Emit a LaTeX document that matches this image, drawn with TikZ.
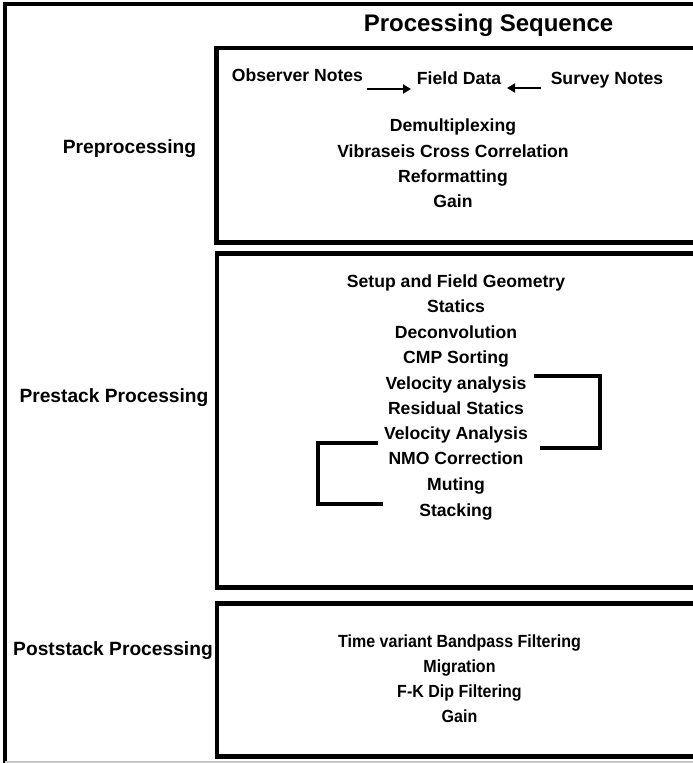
\documentclass[tikz,border=0pt]{standalone}
\usepackage{fontspec}
\setmainfont{Liberation Sans}
\usetikzlibrary{arrows.meta}

\tikzset{
  frameline/.style={line width=4pt},
  panel/.style={line width=4.5pt},
  bracketline/.style={line width=4pt},
  steptext/.style={inner sep=0pt, anchor=base, font=\bfseries\fontsize{17.6}{20}\selectfont},
  sidelabel/.style={inner sep=0pt, anchor=base, font=\bfseries\fontsize{19.2}{22}\selectfont},
  titletext/.style={inner sep=0pt, anchor=base, font=\bfseries\fontsize{24}{28}\selectfont},
  feed/.style={line width=2.8pt, -{Triangle[length=8pt,width=9pt]}},
}
\newcommand{\narrow}[1]{\scalebox{0.91}[1]{#1}}

\begin{document}
\begin{tikzpicture}[x=1pt,y=-1pt]
  \useasboundingbox (0,0) rectangle (693,763);
  \clip (0,0) rectangle (693,763);

  % outer frame (open to the right)
  \draw[frameline] (5,763) -- (5,4) -- (720,4);
  \draw[gray!45, line width=1.5pt] (5,762) -- (720,762);

  % title
  \node[titletext] (title) at (488.5,31) {Processing Sequence};

  % three stage panels
  \draw[panel] (216.5,48) rectangle (720,242.5);
  \draw[panel] (217,253.5) rectangle (720,587.5);
  \draw[panel] (217,603.5) rectangle (720,756.5);

  % stage labels
  \node[sidelabel] (pre)  at (129.5,153) {Preprocessing};
  \node[sidelabel] (pstk) at (114,402)   {Prestack Processing};
  \node[sidelabel] (post) at (113,655)   {Poststack Processing};

  % preprocessing
  \node[steptext] (obs)    at (297.5,81) {Observer Notes};
  \node[steptext] (field)  at (459,84)   {Field Data};
  \node[steptext] (survey) at (607,84)   {Survey Notes};
  \coordinate (obsend) at (367,89);
  \coordinate (fieldw) at (411,89);
  \coordinate (survend) at (541,88);
  \coordinate (fielde) at (507,88);
  \draw[feed] (obsend) -- (fieldw);
  \draw[feed] (survend) -- (fielde);

  \node[steptext] (demux) at (453,131) {Demultiplexing};
  \node[steptext] (vibro) at (453,157) {Vibraseis Cross Correlation};
  \node[steptext] (refmt) at (453,182) {Reformatting};
  \node[steptext] (gainA) at (453,207) {Gain};

  % prestack
  \node[steptext] (setup) at (456,287) {Setup and Field Geometry};
  \node[steptext] (stat)  at (456,312) {Statics};
  \node[steptext] (decon) at (456,338) {Deconvolution};
  \node[steptext] (cmp)   at (456,363) {CMP Sorting};
  \node[steptext] (vela)  at (456,389) {Velocity analysis};
  \node[steptext] (resid) at (456,414) {Residual Statics};
  \node[steptext] (velb)  at (456,439) {Velocity Analysis};
  \node[steptext] (nmo)   at (456,464) {NMO Correction};
  \node[steptext] (mute)  at (456,490) {Muting};
  \node[steptext] (stack) at (456,516) {Stacking};

  % iteration brackets
  \coordinate (ra) at (534,376);
  \coordinate (rb) at (540,448);
  \draw[bracketline] (ra) -- (600,376) -- (600,448) -- (rb);
  \coordinate (la) at (378,443);
  \coordinate (lb) at (383,504);
  \draw[bracketline] (la) -- (317.5,443) -- (317.5,504) -- (lb);

  % poststack
  \node[steptext] (tvbp) at (459.5,647) {\narrow{Time variant Bandpass Filtering}};
  \node[steptext] (migr) at (459.5,672) {\narrow{Migration}};
  \node[steptext] (fk)   at (459.5,697) {\narrow{F-K Dip Filtering}};
  \node[steptext] (gainB) at (459.5,722) {\narrow{Gain}};
\end{tikzpicture}
\end{document}
